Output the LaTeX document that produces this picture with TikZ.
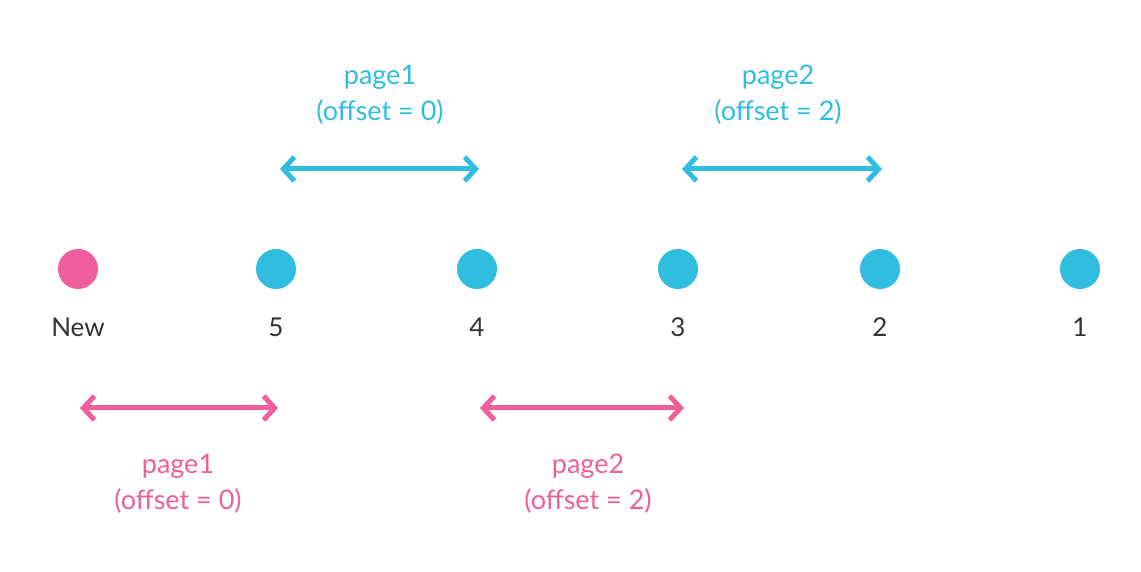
\documentclass[tikz,border=0pt]{standalone}
\usepackage{fontspec}
\setmainfont{Lato}
\usetikzlibrary{arrows.meta,calc}

\definecolor{skyblue}{HTML}{30BDE0}
\definecolor{hotpink}{HTML}{EE5F9C}
\definecolor{darktext}{HTML}{333333}

\begin{document}
\begin{tikzpicture}[x=0.5pt,y=0.5pt,
	dot/.style={circle,fill=skyblue,minimum size=20pt,inner sep=0pt},
	lbl/.style={text=darktext,anchor=base,font=\fontsize{13}{15}\selectfont},
	span/.style={line width=2.5pt,{Straight Barb[length=5.5pt,width=12pt,line width=2.5pt]}-{Straight Barb[length=5.5pt,width=12pt,line width=2.5pt]}},
	pagetxt/.style={align=center,font=\fontsize{13.5}{18}\selectfont}]

	\useasboundingbox (0,0) rectangle (1141,572);

	\node[dot,fill=hotpink] (d0) at (78,303) {};
	\node[lbl] (n0) at (78,235) {New};

	\foreach \i/\x in {1/276,2/477,3/678,4/880,5/1080}
	{
		\pgfmathtruncatemacro \k {6-\i}
		\node[dot] (d\i) at (\x,303) {};
		\node[lbl] (n\i) at (\x,235) {\k};
	}

	% upper spans
	\coordinate (b1) at ($(d1)+(4,100)$);
	\coordinate (b2) at ($(d2)+(2,100)$);
	\coordinate (b3) at ($(d3)+(4,100)$);
	\coordinate (b4) at ($(d4)+(2,100)$);
	\draw[span,skyblue] (b1) -- (b2);
	\draw[span,skyblue] (b3) -- (b4);
	\node[pagetxt,text=skyblue] (p1) at (380,477) {page1\\(offset = 0)};
	\node[pagetxt,text=skyblue] (p2) at (778,477) {page2\\(offset = 2)};

	% lower spans
	\coordinate (c0) at ($(d0)+(2,-139)$);
	\coordinate (c1) at ($(d1)+(2,-139)$);
	\coordinate (c2) at ($(d2)+(3,-139)$);
	\coordinate (c3) at ($(d3)+(6,-139)$);
	\draw[span,hotpink] (c0) -- (c1);
	\draw[span,hotpink] (c2) -- (c3);
	\node[pagetxt,text=hotpink] (q1) at (178,88) {page1\\(offset = 0)};
	\node[pagetxt,text=hotpink] (q2) at (588,88) {page2\\(offset = 2)};

\end{tikzpicture}
\end{document}
